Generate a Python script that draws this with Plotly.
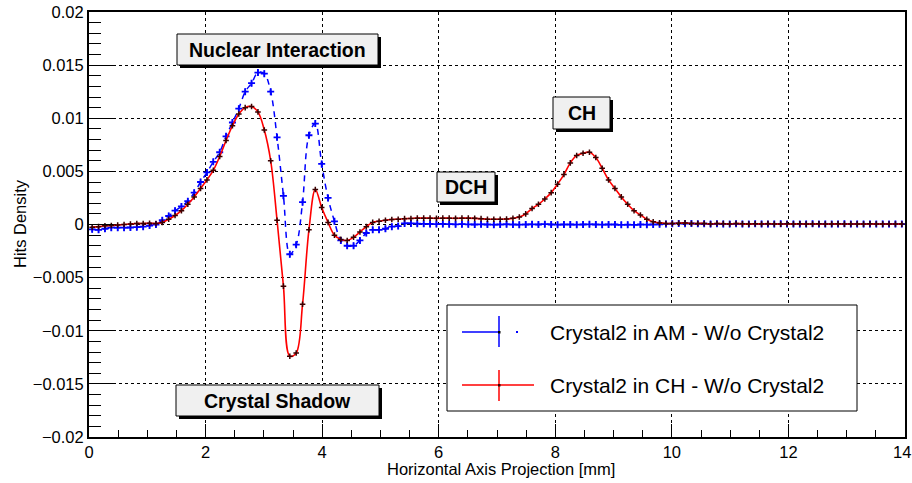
import numpy as np
import plotly.graph_objects as go

# histogram binning (128 bins over 0-14 mm)
n_bins = 128
x_min, x_max = 0.0, 14.0
bin_width = (x_max - x_min) / n_bins
x_mm = x_min + bin_width * (np.arange(n_bins) + 0.5)

red_ch = [
    -0.00025, -0.0002, -0.00012, -0.0001, -0.00005, 0.0, 0.00005, 0.0001, 0.0001, 0.00012,
    0.0001, 0.0002, 0.0005, 0.00085, 0.0013, 0.0019, 0.0026, 0.0034, 0.0042, 0.0051,
    0.0064, 0.0079, 0.0093, 0.0104, 0.0110, 0.0111, 0.0106, 0.0089, 0.0060, 0.0004,
    -0.0058, -0.0124, -0.0121, -0.0075, -0.0005, 0.0033, 0.0016, 0.0002, -0.0010, -0.0014,
    -0.0015, -0.0012, -0.0007, -0.0002, 0.0002, 0.0003, 0.0004, 0.00047, 0.0005, 0.00055,
    0.00057, 0.0006, 0.0006, 0.0006, 0.00058, 0.0006, 0.0006, 0.00058, 0.0006, 0.0006,
    0.00058, 0.00055, 0.0005, 0.0005, 0.0005, 0.00052, 0.00058, 0.0007, 0.0010, 0.0015,
    0.0019, 0.0024, 0.0030, 0.0038, 0.0047, 0.0058, 0.0065, 0.0067, 0.0068, 0.0063,
    0.0053, 0.0042, 0.0034, 0.0026, 0.0019, 0.0013, 0.0009, 0.0005, 0.00025, 0.00015,
    0.0001, 0.0001, 0.00012, 0.00015, 0.0001, 0.0001, 0.0001, 0.00005, 0.0001, 0.00008,
    0.00005, 0.0001, 0.00006, 0.00004, 0.00007, 0.00005, 0.00008, 0.00005, 0.00004, 0.00006,
    0.00005, 0.00007, 0.00004, 0.00005, 0.00006, 0.00004, 0.00005, 0.00006, 0.00004, 0.00005,
    0.00005, 0.00004, 0.00006, 0.00005, 0.00004, 0.00005, 0.00005, 0.00004,
]

blue_am = [
    -0.00045, -0.0005, -0.0004, -0.0003, -0.0003, -0.0003, -0.00028, -0.00025, -0.0002, -0.0001,
    0.0, 0.0004, 0.0008, 0.0013, 0.0017, 0.0022, 0.0030, 0.0040, 0.0049, 0.0059,
    0.0068, 0.0083, 0.0096, 0.0109, 0.0125, 0.0133, 0.0143, 0.0142, 0.0125, 0.0082,
    0.0027, -0.0028, -0.0019, 0.0021, 0.0084, 0.0095, 0.0057, 0.0025, 0.0003, -0.0015,
    -0.0020, -0.0020, -0.0015, -0.0008, -0.0005, -0.0005, -0.0004, -0.0002, -0.00015, 0.0001,
    0.0001, 0.00008, 0.00006, 0.00005, 0.00004, 0.00005, 0.00003, 0.00002, 0.00003, 0.00002,
    0.0, 0.00002, 0.0, -0.00002, 0.0, 0.00002, 0.0, -0.00002, 0.0, 0.00002,
    0.0, 0.00003, 0.0, -0.00002, 0.0, 0.0, -0.00002, 0.0, 0.00002, 0.0,
    -0.00002, 0.0, 0.0, -0.00003, -0.00002, -0.00003, 0.0, -0.00002, 0.0, 0.00002,
    0.00005, 0.00008, 0.0001, 0.00008, 0.0001, 0.00006, 0.00008, 0.00004, 0.00006, 0.00005,
    0.00004, 0.00006, 0.00005, 0.00004, 0.00006, 0.00005, 0.00004, 0.00005, 0.00006, 0.00004,
    0.00005, 0.00004, 0.00005, 0.00006, 0.00004, 0.00005, 0.00004, 0.00005, 0.00006, 0.00004,
    0.00005, 0.00004, 0.00005, 0.00004, 0.00005, 0.00004, 0.00005, 0.00004,
]

x_ticks = [0, 2, 4, 6, 8, 10, 12]
last_x_tick = "14"
legend_labels = ["Crystal2 in AM - W/o Crystal2", "Crystal2 in CH - W/o Crystal2"]
box_labels = ["Nuclear Interaction", "Crystal Shadow", "DCH", "CH"]
x_title = "Horizontal Axis Projection [mm]"
y_title = "Hits Density"

W, H = 912, 483
L, R, T, B = 89, 905, 12, 437
FONT = "Liberation Sans, Arial, Helvetica, sans-serif"


def px(x):
    return (x - L) / (R - L)


def py(y):
    return (B - y) / (B - T)


fig = go.Figure()

fig.add_trace(go.Scatter(
    x=x_mm, y=blue_am, mode="lines+markers",
    line=dict(color="blue", width=1.5, shape="spline", smoothing=1, dash="6px,5px"),
    marker=dict(symbol="cross-thin", size=5, line=dict(color="blue", width=1.8)),
    error_y=dict(type="constant", value=0.0003, color="blue", thickness=1.3, width=0),
    showlegend=False,
))

fig.add_trace(go.Scatter(
    x=x_mm, y=red_ch, mode="lines+markers",
    line=dict(color="red", width=1.6, shape="spline", smoothing=1),
    marker=dict(symbol="cross-thin", size=4, line=dict(color="#3a0000", width=1.5)),
    showlegend=False,
))

shapes = []
annotations = []

# text boxes (pixels: left, top, right, bottom)
boxes = [
    (box_labels[0], 177, 34, 378, 65),
    (box_labels[1], 176, 385, 379, 416),
    (box_labels[2], 437, 172, 495, 202),
    (box_labels[3], 553, 97, 610, 129),
]
for text, x0, y0, x1, y1 in boxes:
    shapes.append(dict(type="rect", xref="paper", yref="paper",
                       x0=px(x0 + 3), x1=px(x1 + 3), y0=py(y0 + 3), y1=py(y1 + 3),
                       fillcolor="black", line=dict(width=0), layer="above"))
    shapes.append(dict(type="rect", xref="paper", yref="paper",
                       x0=px(x0), x1=px(x1), y0=py(y0), y1=py(y1),
                       fillcolor="#f0f0f0", line=dict(color="black", width=1), layer="above"))
    annotations.append(dict(xref="paper", yref="paper", x=px((x0 + x1) / 2), y=py((y0 + y1) / 2),
                            text="<b>%s</b>" % text, showarrow=False,
                            font=dict(family=FONT, size=19.5, color="black"),
                            xanchor="center", yanchor="middle"))

# legend box
shapes.append(dict(type="rect", xref="paper", yref="paper",
                   x0=px(447), x1=px(857), y0=py(305), y1=py(411),
                   fillcolor="white", line=dict(color="black", width=1), layer="above"))
# blue entry
shapes += [
    dict(type="line", xref="paper", yref="paper", x0=px(462), x1=px(499), y0=py(332), y1=py(332),
         line=dict(color="blue", width=1.5), layer="above"),
    dict(type="line", xref="paper", yref="paper", x0=px(499), x1=px(499), y0=py(316), y1=py(347),
         line=dict(color="blue", width=1.5), layer="above"),
    dict(type="rect", xref="paper", yref="paper", x0=px(498), x1=px(500.5), y0=py(331), y1=py(333.5),
         fillcolor="black", line=dict(width=0), layer="above"),
    dict(type="rect", xref="paper", yref="paper", x0=px(516), x1=px(518), y0=py(331), y1=py(333),
         fillcolor="blue", line=dict(width=0), layer="above"),
]
# red entry
shapes += [
    dict(type="line", xref="paper", yref="paper", x0=px(462), x1=px(534), y0=py(385), y1=py(385),
         line=dict(color="red", width=1.5), layer="above"),
    dict(type="line", xref="paper", yref="paper", x0=px(499), x1=px(499), y0=py(370), y1=py(401),
         line=dict(color="red", width=1.5), layer="above"),
    dict(type="rect", xref="paper", yref="paper", x0=px(498), x1=px(500.5), y0=py(384), y1=py(386.5),
         fillcolor="#3a0000", line=dict(width=0), layer="above"),
]
for text, yc in zip(legend_labels, [332, 385]):
    annotations.append(dict(xref="paper", yref="paper", x=px(548), y=py(yc), text=text,
                            showarrow=False, xanchor="left", yanchor="middle",
                            font=dict(family=FONT, size=21, color="black")))

# last x tick label sits against the right edge, as in the original
annotations.append(dict(xref="paper", yref="paper", x=px(912), y=py(452), text=last_x_tick,
                        showarrow=False, xanchor="right", yanchor="middle", xshift=1,
                        font=dict(family=FONT, size=16.5, color="black")))

# axis titles
annotations.append(dict(xref="paper", yref="paper", x=px(501), y=py(469), text=x_title,
                        showarrow=False, xanchor="center", yanchor="middle",
                        font=dict(family=FONT, size=16.5, color="black")))
annotations.append(dict(xref="paper", yref="paper", x=px(20), y=py(224), text=y_title,
                        showarrow=False, xanchor="center", yanchor="middle", textangle=-90,
                        font=dict(family=FONT, size=16.5, color="black")))

fig.update_layout(
    width=W, height=H,
    margin=dict(l=L, r=W - R, t=T, b=H - B),
    paper_bgcolor="white", plot_bgcolor="white",
    font=dict(family=FONT, color="black"),
    shapes=shapes, annotations=annotations,
    showlegend=False,
)

fig.update_xaxes(
    range=[x_min, x_max], tickvals=x_ticks, ticktext=[str(v) for v in x_ticks],
    showline=True, linecolor="black", linewidth=2, mirror=True,
    ticks="inside", ticklen=13, tickwidth=1, tickcolor="black",
    minor=dict(dtick=0.5, tick0=0, ticks="inside", ticklen=7, tickcolor="black", showgrid=False),
    showgrid=True, gridcolor="black", griddash="dot", gridwidth=1,
    zeroline=False,
    tickfont=dict(family=FONT, size=16.5),
    ticklabelstandoff=-1,
    automargin=False,
)

fig.update_yaxes(
    range=[-0.02, 0.02], dtick=0.005, tick0=0,
    showline=True, linecolor="black", linewidth=2, mirror=True,
    ticks="inside", ticklen=24, tickwidth=1, tickcolor="black",
    minor=dict(dtick=0.001, ticks="inside", ticklen=12, tickcolor="black", showgrid=False),
    showgrid=True, gridcolor="black", griddash="dot", gridwidth=1,
    zeroline=False,
    tickfont=dict(family=FONT, size=16.5),
    ticklabeloverflow="allow",
    automargin=False,
)

# drop the default 8px page margin so the figure fills the window
fig.write_html("out.html", config={"displayModeBar": False},
               post_script="document.body.style.margin='0';")
